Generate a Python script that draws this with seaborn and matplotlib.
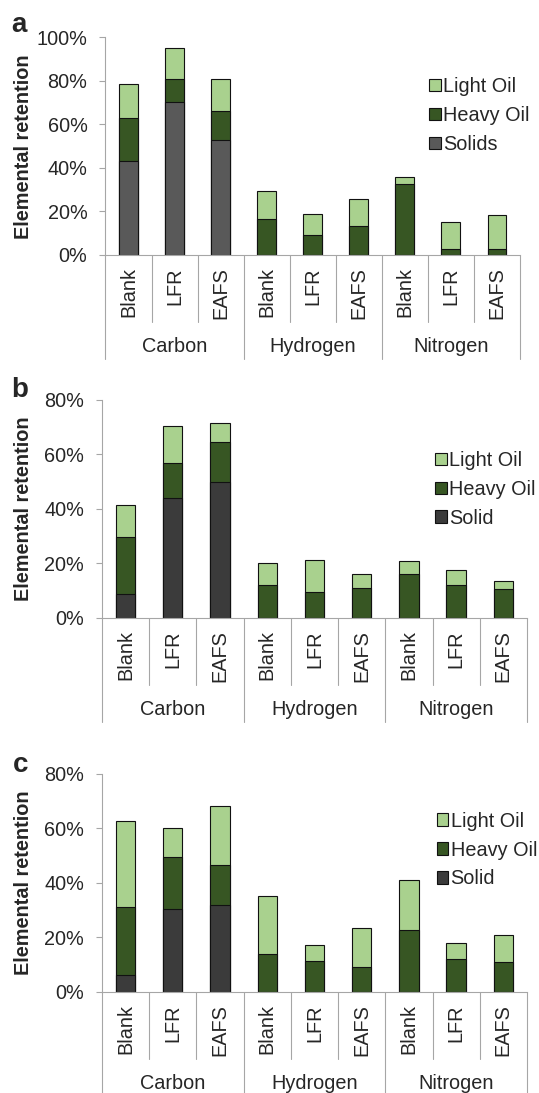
import pandas as pd
import matplotlib.pyplot as plt
import matplotlib.transforms as mtransforms
from matplotlib.ticker import MultipleLocator, PercentFormatter
import seaborn as sns

# Categories
elements = ["Carbon", "Hydrogen", "Nitrogen"]
runs = ["Blank", "LFR", "EAFS"]

# Panel a - retention (%) per fraction, order: C(Blank, LFR, EAFS), H(...), N(...)
a_solid = [43.3, 70.2, 52.8, 0, 0, 0, 0, 0, 0]
a_heavy = [19.6, 10.6, 13.6, 16.4, 9.2, 13.3, 32.7, 2.9, 2.6]
a_light = [15.5, 14.3, 14.4, 13.2, 9.7, 12.5, 3.0, 12.4, 15.8]

# Panel b
b_solid = [8.8, 43.9, 50.0, 0, 0, 0, 0, 0, 0]
b_heavy = [20.7, 13.1, 14.5, 11.9, 9.4, 10.9, 15.9, 11.9, 10.5]
b_light = [12.0, 13.6, 7.2, 8.3, 11.9, 5.0, 5.1, 5.5, 2.9]

# Panel c
c_solid = [6.3, 30.4, 32.0, 0, 0, 0, 0, 0, 0]
c_heavy = [24.7, 19.0, 14.6, 13.9, 11.3, 9.0, 22.5, 12.1, 11.0]
c_light = [31.7, 10.8, 21.6, 21.4, 6.0, 14.2, 18.4, 5.7, 9.9]

LIGHT = "#a9d18e"
HEAVY = "#375623"
EDGE = "#111111"
GRAY = "#a6a6a6"
FS = 14.3

sns.set_style("white")
plt.rcParams["font.family"] = ["Liberation Sans", "DejaVu Sans"]


def draw_panel(ax, solid, heavy, light, solid_label, solid_color, ymax,
               ylab_x, leg_x, leg_y):
    keys = [f"{e} {r}" for e in elements for r in runs]
    df = pd.DataFrame({"key": keys, "solid": solid, "heavy": heavy, "light": light})
    df["heavy_top"] = df["solid"] + df["heavy"]
    df["light_top"] = df["heavy_top"] + df["light"]

    common = dict(data=df, x="key", order=keys, width=0.41, saturation=1,
                  edgecolor=EDGE, linewidth=0.8, errorbar=None, ax=ax)
    sns.barplot(y="light_top", color=LIGHT, label="Light Oil", **common)
    sns.barplot(y="heavy_top", color=HEAVY, label="Heavy Oil", **common)
    sns.barplot(y="solid", color=solid_color, label=solid_label, **common)

    ax.set_ylim(0, ymax)
    ax.set_xlim(-0.5, len(keys) - 0.5)
    ax.yaxis.set_major_locator(MultipleLocator(20))
    ax.yaxis.set_major_formatter(PercentFormatter(100, decimals=0))
    ax.set_xticks(range(len(keys)))
    ax.set_xticklabels(runs * len(elements), rotation=90)
    ax.tick_params(axis="x", length=0, pad=9, labelsize=FS)
    ax.tick_params(axis="y", left=True, length=4, width=0.8, color=GRAY,
                   pad=9, labelsize=FS)
    ax.set_xlabel("")
    ax.set_ylabel("Elemental retention", fontsize=FS, fontweight="bold")
    ax.yaxis.set_label_coords(ylab_x, 0.5)

    for side in ["top", "right"]:
        ax.spines[side].set_visible(False)
    for side in ["left", "bottom"]:
        ax.spines[side].set_color(GRAY)
        ax.spines[side].set_linewidth(0.8)

    # two-level category axis: separators and group names
    trans = mtransforms.blended_transform_factory(ax.transData, ax.transAxes)
    for i in range(len(keys) + 1):
        y0 = -0.48 if i % len(runs) == 0 else -0.308
        ax.plot([i - 0.5, i - 0.5], [0, y0], transform=trans, color=GRAY,
                lw=0.8, clip_on=False)
    for g, name in enumerate(elements):
        ax.text(g * len(runs) + 1, -0.42, name, transform=trans,
                ha="center", va="center", fontsize=FS)

    ax.legend(loc="center left", bbox_to_anchor=(leg_x, leg_y), frameon=False,
              fontsize=FS, handlelength=0.57, handleheight=0.57,
              handletextpad=0.12, labelspacing=0.5, borderpad=0,
              borderaxespad=0)


fig = plt.figure(figsize=(5.39, 10.93), dpi=100)
ax_a = fig.add_axes([0.1957, 0.7667, 0.769, 0.199])
ax_b = fig.add_axes([0.1892, 0.4349, 0.7885, 0.1992])
ax_c = fig.add_axes([0.1892, 0.0927, 0.7885, 0.1994])

draw_panel(ax_a, a_solid, a_heavy, a_light, "Solids", "#595959", 100,
           -0.175, 0.781, 0.641)
draw_panel(ax_b, b_solid, b_heavy, b_light, "Solid", "#3b3b3b", 80,
           -0.163, 0.784, 0.59)
draw_panel(ax_c, c_solid, c_heavy, c_light, "Solid", "#3b3b3b", 80,
           -0.163, 0.788, 0.65)

fig.text(0.021, 0.971, "a", fontsize=20, fontweight="bold", va="baseline")
fig.text(0.020, 0.6365, "b", fontsize=20, fontweight="bold", va="baseline")
fig.text(0.024, 0.294, "c", fontsize=20, fontweight="bold", va="baseline")

fig.savefig("out.png", dpi=100)
